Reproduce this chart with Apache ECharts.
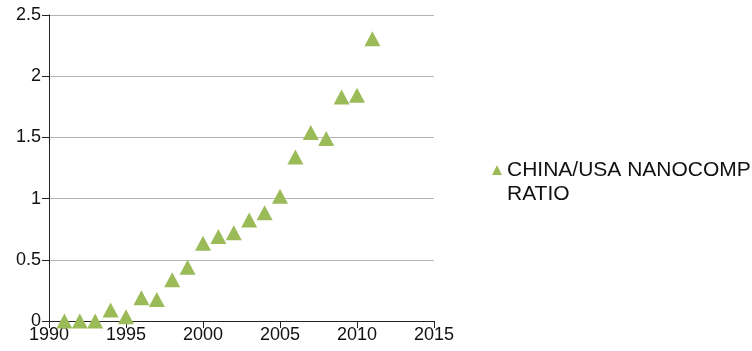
<html>
<head>
    <meta charset="utf-8">
    <title>China/USA nanocomp ratio</title>
    <script src="https://cdn.jsdelivr.net/npm/echarts@6/dist/echarts.min.js"></script>
    <style>
        body { margin: 0; background: #fff; }
    </style>
</head>
<body>

<!-- chart container -->
<div id="main" style="width: 752px;height:351px;"></div>

<script type="text/javascript">

    // data
    var years = [1991, 1992, 1993, 1994, 1995, 1996, 1997, 1998, 1999, 2000,
                 2001, 2002, 2003, 2004, 2005, 2006, 2007, 2008, 2009, 2010, 2011];
    var ratio = [0.0, 0.0, 0.0, 0.09, 0.035, 0.19, 0.175, 0.337, 0.44, 0.636,
                 0.69, 0.72, 0.825, 0.884, 1.02, 1.34, 1.54, 1.49, 1.83, 1.845, 2.305];
    var seriesName = 'CHINA/USA NANOCOMP RATIO';

    var points = years.map(function (y, i) { return [y, ratio[i]]; });

    var myChart = echarts.init(document.getElementById('main'));

    var font = 'Liberation Sans, Arial, Helvetica, sans-serif';

    // triangle at the top of a tall box, so it lines up with the first text line
    var legendIcon = 'path://M5,0L10,10L0,10Z M5,34L5,34Z';

    var option = {
        animation: false,
        grid: { left: 49, right: 318, top: 15, bottom: 30 },
        legend: {
            data: [seriesName],
            left: 487,
            top: 153,
            icon: legendIcon,
            itemWidth: 10,
            itemHeight: 34,
            itemGap: 8,
            formatter: function () { return 'CHINA/USA NANOCOMP\nRATIO'; },
            textStyle: { fontFamily: font, fontSize: 21, lineHeight: 24, color: '#111' }
        },
        xAxis: {
            type: 'value',
            min: 1990,
            max: 2015,
            interval: 5,
            axisLine: { show: true, lineStyle: { color: '#222', width: 1 } },
            axisTick: { show: true, length: 7, lineStyle: { color: '#222' } },
            axisLabel: {
                fontFamily: font, fontSize: 18, color: '#111', margin: 5,
                formatter: function (v) { return String(v); }
            },
            splitLine: { show: false }
        },
        yAxis: {
            type: 'value',
            min: 0,
            max: 2.5,
            interval: 0.5,
            axisLine: { show: true, lineStyle: { color: '#222', width: 1 } },
            axisTick: { show: true, length: 7, lineStyle: { color: '#222' } },
            axisLabel: { fontFamily: font, fontSize: 18, color: '#111', margin: 8 },
            splitLine: { show: true, lineStyle: { color: '#b3b3b3', width: 1 } }
        },
        series: [{
            name: seriesName,
            type: 'scatter',
            symbol: 'triangle',
            symbolSize: [16, 15],
            itemStyle: { color: '#9bbb59', opacity: 1 },
            data: points
        }]
    };

    myChart.setOption(option);

</script>
</body>
</html>
